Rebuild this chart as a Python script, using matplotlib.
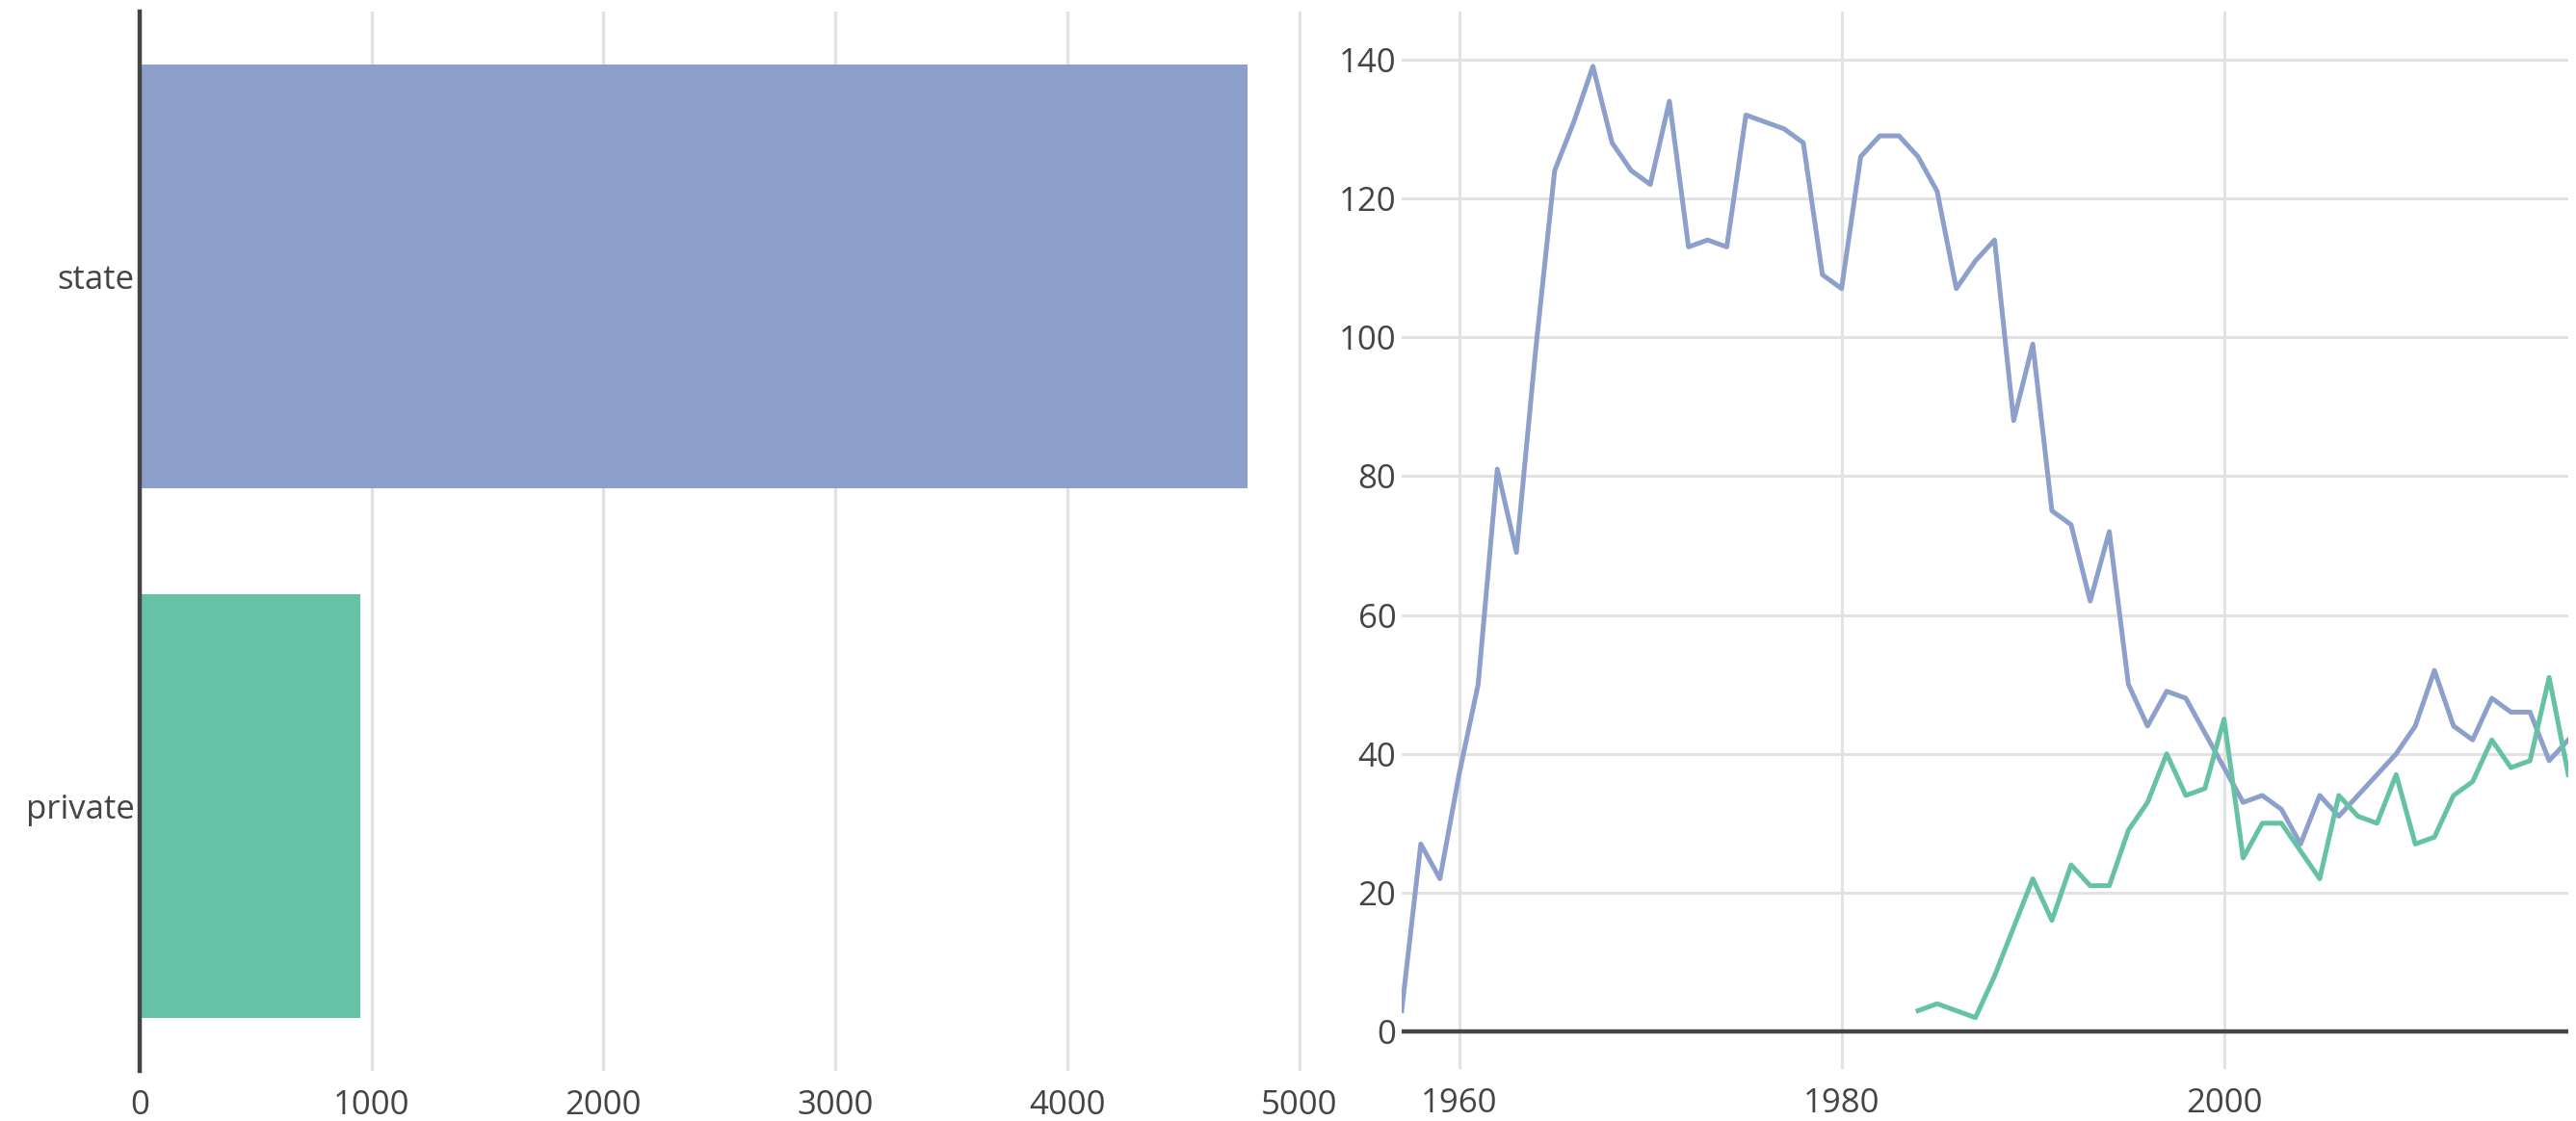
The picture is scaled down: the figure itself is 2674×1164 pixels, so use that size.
import matplotlib
matplotlib.use("Agg")
import matplotlib.pyplot as plt

plt.rcParams['font.family'] = ['Open Sans', 'DejaVu Sans']

# left panel: totals by type
bar_labels = ['private', 'state']
bar_values = [951, 4778]
bar_colors = ['#66c2a5', '#8da0cb']

# right panel: yearly counts
state_years = list(range(1957, 2019))
state_counts = [3, 27, 22, 37, 50, 81, 69, 98, 124, 131,
                139, 128, 124, 122, 134, 113, 114, 113, 132, 131,
                130, 128, 109, 107, 126, 129, 129, 126, 121, 107,
                111, 114, 88, 99, 75, 73, 62, 72, 50, 44,
                49, 48, 43, 38, 33, 34, 32, 27, 34, 31,
                34, 37, 40, 44, 52, 44, 42, 48, 46, 46,
                39, 42]
private_years = list(range(1984, 2019))
private_counts = [3, 4, 3, 2, 8, 15, 22, 16, 24, 21,
                  21, 29, 33, 40, 34, 35, 45, 25, 30, 30,
                  26, 22, 34, 31, 30, 37, 27, 28, 34, 36,
                  42, 38, 39, 51, 37]

W, H = 2674, 1164
fig = plt.figure(figsize=(W / 100, H / 100), dpi=100)
grid_c = '#e2e2e2'
txt_c = '#444444'
fs = 25

# bar chart
ax1 = fig.add_axes([145 / W, 1 - 1112 / H, 1206 / W, 1100 / H])
ax1.barh(bar_labels, bar_values, height=0.8, color=bar_colors, zorder=2)
ax1.set_xlim(0, 5010)
ax1.set_ylim(-0.5, 1.5)
ax1.set_xticks([0, 1000, 2000, 3000, 4000, 5000])
ax1.grid(axis='x', color=grid_c, lw=2.4, zorder=0)
ax1.axvline(0, color=txt_c, lw=3.2, zorder=3, clip_on=False)
for s in ax1.spines.values():
    s.set_visible(False)
ax1.tick_params(length=0, labelsize=fs, colors=txt_c)
ax1.tick_params(axis='x', pad=14)
ax1.tick_params(axis='y', pad=4)

# line chart
ax2 = fig.add_axes([1455 / W, 1 - 1110 / H, 1211 / W, 1098 / H])
ax2.plot(state_years, state_counts, color='#8da0cb', lw=3.6, zorder=3)
ax2.plot(private_years, private_counts, color='#66c2a5', lw=3.6, zorder=3)
ax2.set_xlim(1957, 2018)
ax2.set_ylim(-5.4, 146.9)
ax2.set_xticks([1960, 1980, 2000])
ax2.set_yticks(range(0, 141, 20))
ax2.grid(color=grid_c, lw=2.2, zorder=0)
ax2.axhline(0, color=txt_c, lw=3.2, zorder=2)
for s in ax2.spines.values():
    s.set_visible(False)
ax2.tick_params(length=0, labelsize=fs, colors=txt_c)
ax2.tick_params(axis='x', pad=14)
ax2.tick_params(axis='y', pad=4)

fig.savefig('out.png', dpi=100)
